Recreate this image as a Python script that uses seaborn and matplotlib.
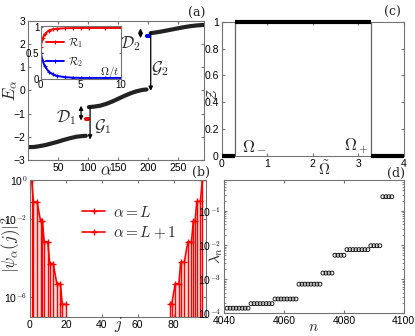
import numpy as np
import pandas as pd
import matplotlib
matplotlib.use("Agg")
import matplotlib.pyplot as plt
import seaborn as sns
from matplotlib.ticker import FixedLocator, FuncFormatter, LogLocator, NullFormatter

# ---- data ----
# (a) spectrum E_alpha, three bands plus the two gap (edge) states
band1_alpha = [1, 10, 20, 30, 40, 50, 60, 70, 80, 90, 96]
band1_E = [-2.45, -2.44, -2.40, -2.35, -2.28, -2.21, -2.13, -2.06, -2.00, -1.97, -1.96]
band2_alpha = [101, 110, 120, 130, 140, 150, 160, 170, 180, 190, 197]
band2_E = [-0.72, -0.70, -0.66, -0.58, -0.48, -0.36, -0.24, -0.13, -0.04, 0.02, 0.04]
band3_alpha = [204, 210, 220, 230, 240, 250, 260, 270, 280, 290, 293]
band3_E = [2.47, 2.49, 2.53, 2.58, 2.63, 2.68, 2.73, 2.77, 2.80, 2.82, 2.82]
edge1_alpha = [96, 97, 98, 99]
edge1_E = [-1.25, -1.25, -1.25, -1.25]
edge2_alpha = [197, 198, 199, 200, 201]
edge2_E = [2.33, 2.33, 2.33, 2.33, 2.33]

# inset: R1, R2 vs Omega/t
inset_omega = [0, 0.25, 0.5, 1, 1.5, 2, 3, 4, 5, 6, 8, 10]
R1 = [0.62, 0.78, 0.86, 0.93, 0.955, 0.965, 0.975, 0.978, 0.98, 0.98, 0.98, 0.98]
R2 = [0.50, 0.35, 0.25, 0.14, 0.09, 0.06, 0.035, 0.025, 0.02, 0.02, 0.02, 0.02]

# (c) Z vs Omega tilde
omega_minus = 0.3
omega_plus = 3.27
z_segments = [(0, omega_minus, 0), (omega_minus, omega_plus, 1), (omega_plus, 4, 0)]

# (b) |psi_alpha(j)|^2
psi_L_j = [1, 2, 4, 6, 7, 8, 10, 11, 13, 15, 17, 18, 20]
psi_L = [1.0, 7.6e-2, 7.6e-2, 7.6e-3, 7.6e-3, 7.0e-4, 7.0e-4, 5.3e-5, 5.3e-5, 5.0e-6, 5.0e-6, 4.4e-7, 4.4e-7]
psi_L1_j = [78, 79, 81, 83, 84, 86, 88, 90, 91, 92, 93, 95, 96]
psi_L1 = [4.6e-7, 4.6e-7, 5.0e-6, 5.0e-6, 6.3e-5, 6.3e-5, 6.9e-4, 6.9e-4, 7.6e-3, 7.6e-3, 8.1e-2, 8.1e-2, 1.0]

# (d) entanglement spectrum lambda_n
n_vals = list(range(4041, 4097))
lam_levels = [1.4e-4] * 8 + [1.9e-4] * 8 + [2.6e-4] * 8 + [7.1e-4] * 8 + \
             [1.5e-3] * 4 + [5.0e-3] * 4 + [7.3e-3] * 8 + [9.5e-3] * 4 + [0.26] * 4

sns.set_style("ticks")
plt.rcParams["font.family"] = ["Liberation Sans", "DejaVu Sans"]
plt.rcParams["mathtext.fontset"] = "cm"
plt.rcParams["xtick.direction"] = "in"
plt.rcParams["ytick.direction"] = "in"
plt.rcParams["xtick.top"] = True
plt.rcParams["ytick.right"] = True
plt.rcParams["axes.edgecolor"] = "0.45"
plt.rcParams["axes.linewidth"] = 0.8
plt.rcParams["xtick.color"] = "0.45"
plt.rcParams["ytick.color"] = "0.45"
plt.rcParams["xtick.labelcolor"] = "black"
plt.rcParams["ytick.labelcolor"] = "black"
plt.rcParams["xtick.labelsize"] = 7.5
plt.rcParams["ytick.labelsize"] = 7.5
plt.rcParams["xtick.major.size"] = 2.5
plt.rcParams["ytick.major.size"] = 2.5
plt.rcParams["xtick.major.pad"] = 2
plt.rcParams["ytick.major.pad"] = 2

W, H = 415, 336
fig = plt.figure(figsize=(W / 100, H / 100), dpi=100)


def px(x, y):
    return x / W, 1 - y / H


def ftext(x, y, s, **kw):
    fig.text(*px(x, y), s, ha="center", va="center", **kw)


ax_a = fig.add_axes([0.068, 0.524, 0.424, 0.414])
ax_c = fig.add_axes([0.534, 0.536, 0.439, 0.399])
ax_b = fig.add_axes([0.072, 0.057, 0.424, 0.407])
ax_d = fig.add_axes([0.540, 0.068, 0.433, 0.396])
ax_in = fig.add_axes([0.098, 0.765, 0.193, 0.158])

# ---- (a) ----
for a_, e_ in [(band1_alpha, band1_E), (band2_alpha, band2_E), (band3_alpha, band3_E)]:
    sns.lineplot(x=a_, y=e_, ax=ax_a, color="#222222", lw=3.0, estimator=None, sort=False)
sns.lineplot(x=edge1_alpha, y=edge1_E, ax=ax_a, color="red", lw=3.0, estimator=None)
sns.lineplot(x=edge2_alpha, y=edge2_E, ax=ax_a, color="blue", lw=3.0, estimator=None)
ax_a.set_xlim(0, 293)
ax_a.set_ylim(-3, 3)
ax_a.set_xticks([50, 100, 150, 200, 250])
ax_a.set_yticks([-3, -2, -1, 0, 1, 2, 3])
ax_a.set_xlabel("")
ax_a.set_ylabel("")

arrow = dict(arrowstyle="<|-|>", color="black", lw=0.9, mutation_scale=6, shrinkA=0, shrinkB=0)
ax_a.annotate("", xy=(88, -0.66), xytext=(88, -1.30), arrowprops=arrow)
ax_a.annotate("", xy=(187, 2.68), xytext=(187, 2.25), arrowprops=arrow)
arrow1 = dict(arrowstyle="-|>", color="black", lw=0.9, mutation_scale=6, shrinkA=0, shrinkB=0)
ax_a.annotate("", xy=(103, -2.12), xytext=(103, -0.72), arrowprops=arrow1)
ax_a.annotate("", xy=(204, -0.02), xytext=(204, 2.5), arrowprops=arrow1)

ftext(66, 118, r"$\mathcal{D}_1$", fontsize=12)
ftext(103, 127, r"$\mathcal{G}_1$", fontsize=12)
ftext(130, 44, r"$\mathcal{D}_2$", fontsize=12)
ftext(160, 69, r"$\mathcal{G}_2$", fontsize=12)
ftext(11, 90, r"$E_\alpha$", fontsize=12, rotation=90)
ftext(106, 171, r"$\alpha$", fontsize=12)
ftext(197, 13, "(a)", fontsize=9, family="serif")

# inset
line_kw = dict(lw=1.4, marker="+", ms=2.5, mew=0.8, estimator=None)
sns.lineplot(x=inset_omega, y=R1, ax=ax_in, color="red", mec="red", label=r"$\mathcal{R}_1$", **line_kw)
sns.lineplot(x=inset_omega, y=R2, ax=ax_in, color="blue", mec="blue", label=r"$\mathcal{R}_2$", **line_kw)
ax_in.set_xlim(0, 10)
ax_in.set_ylim(0, 1.02)
ax_in.set_xticks([0, 5, 10])
ax_in.set_yticks([0, 0.5, 1])
ax_in.set_yticklabels(["0", "0.5", "1"])
ax_in.tick_params(labelsize=7, length=1.5, pad=1)
ax_in.set_xlabel("")
ax_in.set_ylabel("")
ax_in.legend(loc="center left", bbox_to_anchor=(0.0, 0.5), frameon=False, fontsize=8,
             handlelength=1.6, handletextpad=0.4, labelspacing=0.4, borderaxespad=0.1)
ftext(110, 72, r"$\Omega/t$", fontsize=8)

# ---- (c) ----
for x0, x1, z in z_segments:
    sns.lineplot(x=[x0, x1], y=[z, z], ax=ax_c, color="black", lw=3.0, estimator=None,
                 clip_on=False, zorder=5, solid_capstyle="butt")
ax_c.vlines([omega_minus, omega_plus], 0, 1, color="0.4", lw=0.9)
ax_c.set_xlim(0, 4)
ax_c.set_ylim(0, 1)
ax_c.set_xticks([0, 1, 2, 3, 4])
ax_c.set_yticks([0, 0.2, 0.4, 0.6, 0.8, 1])
ax_c.set_yticklabels(["0", "0.2", "0.4", "0.6", "0.8", "1"])
ftext(254, 146, r"$\Omega_-$", fontsize=12)
ftext(357, 146, r"$\Omega_+$", fontsize=12)
ftext(213, 95, r"$\mathcal{Z}$", fontsize=10, rotation=90)
ftext(324, 169, r"$\tilde{\Omega}$", fontsize=11)
ftext(392, 12, "(c)", fontsize=9, family="serif")

# ---- (b) ----
bottom = 1e-7
ax_b.set_yscale("log")
for jj, vv in [(psi_L_j, psi_L), (psi_L1_j, psi_L1)]:
    ax_b.fill_between(jj, bottom, vv, color="red", alpha=0.12, lw=0)
    ax_b.vlines(jj, bottom, vv, color="red", lw=1.0)
psi_kw = dict(color="red", mec="red", lw=1.2, marker="+", ms=4, mew=1, estimator=None)
sns.lineplot(x=psi_L_j, y=psi_L, ax=ax_b, label=r"$\alpha = L$", **psi_kw)
sns.lineplot(x=psi_L1_j, y=psi_L1, ax=ax_b, label=r"$\alpha = L+1$", **psi_kw)
ax_b.set_xlim(0, 98)
ax_b.set_ylim(bottom, 1)
ax_b.set_xticks([0, 20, 40, 60, 80])
ax_b.yaxis.set_major_locator(FixedLocator([1, 1e-2, 1e-6]))
ax_b.yaxis.set_minor_locator(FixedLocator([]))
ax_b.yaxis.set_major_formatter(FuncFormatter(lambda v, p: "10$^{%d}$" % round(np.log10(v))))
ax_b.set_xlabel("")
ax_b.set_ylabel("")
ax_b.legend(loc="upper left", bbox_to_anchor=(0.22, 0.92), frameon=False, fontsize=11,
            handlelength=1.5, handletextpad=0.5, labelspacing=0.3)
ftext(11, 245, r"$|\psi_\alpha(j)|^2$", fontsize=12, rotation=90)
ftext(118, 325, r"$j$", fontsize=12)
ftext(201, 172, "(b)", fontsize=9, family="serif")

# ---- (d) ----
ax_d.set_yscale("log")
sns.scatterplot(x=n_vals, y=lam_levels, ax=ax_d, marker="o", s=8, facecolors="none",
                edgecolors="black", linewidth=0.6)
ax_d.set_xlim(4040, 4100)
ax_d.set_ylim(1e-4, 0.8)
ax_d.set_xticks([4040, 4060, 4080, 4100])
ax_d.yaxis.set_major_locator(FixedLocator([1e-4, 1e-3, 1e-2, 1e-1]))
ax_d.yaxis.set_major_formatter(FuncFormatter(lambda v, p: "10$^{%d}$" % round(np.log10(v))))
ax_d.yaxis.set_minor_locator(LogLocator(base=10, subs=np.arange(2, 10), numticks=10))
ax_d.yaxis.set_minor_formatter(NullFormatter())
ax_d.tick_params(which="minor", length=1.2)
ax_d.set_xlabel("")
ax_d.set_ylabel("")
ftext(216, 255, r"$\lambda_n$", fontsize=11, rotation=90)
ftext(313, 327, r"$n$", fontsize=11)
ftext(396, 173, "(d)", fontsize=9, family="serif")

fig.savefig("out.png", dpi=100)
